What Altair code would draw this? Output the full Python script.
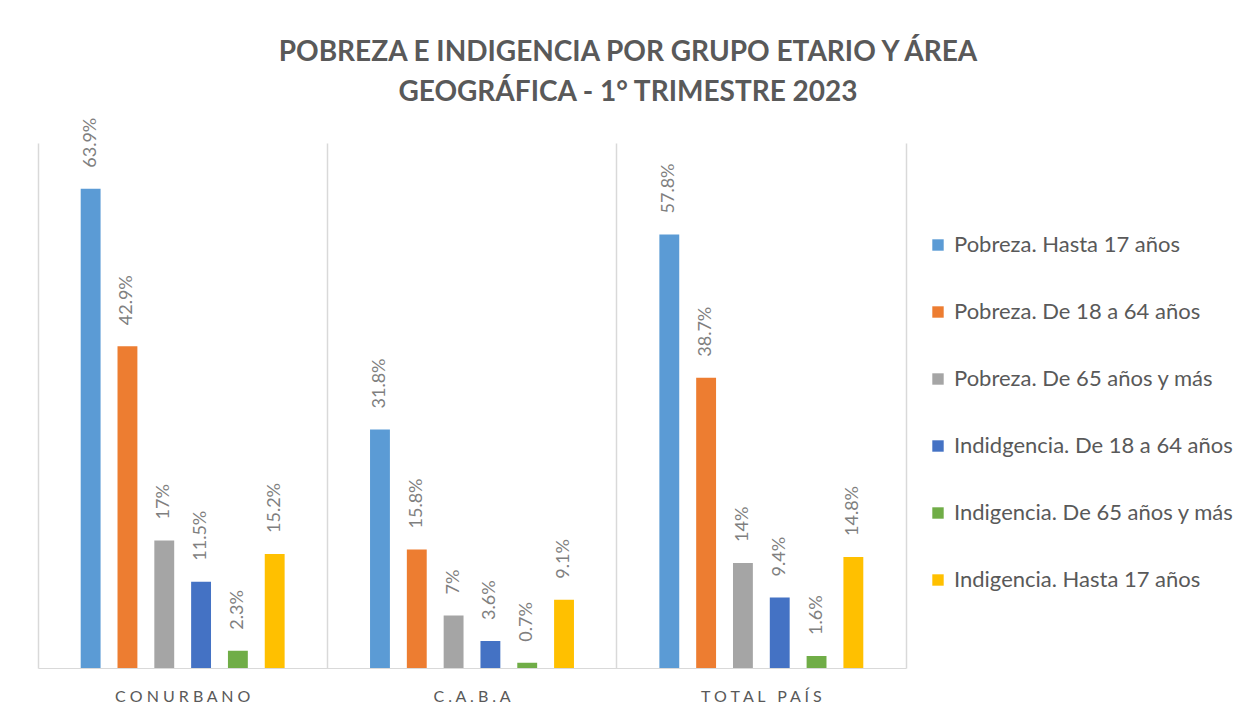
import altair as alt
import pandas as pd

areas = ["CONURBANO", "C.A.B.A", "TOTAL PAÍS"]
series = [
    "Pobreza. Hasta 17 años",
    "Pobreza. De 18 a 64 años",
    "Pobreza. De 65 años y más",
    "Indidgencia. De 18 a 64 años",
    "Indigencia. De 65 años y más",
    "Indigencia. Hasta 17 años",
]
colors = ["#5B9BD5", "#ED7D31", "#A5A5A5", "#4472C4", "#70AD47", "#FFC000"]

pobreza_hasta17 = [63.9, 31.8, 57.8]
pobreza_18_64 = [42.9, 15.8, 38.7]
pobreza_65 = [17, 7, 14]
indigencia_18_64 = [11.5, 3.6, 9.4]
indigencia_65 = [2.3, 0.7, 1.6]
indigencia_hasta17 = [15.2, 9.1, 14.8]

values_by_series = [pobreza_hasta17, pobreza_18_64, pobreza_65,
                    indigencia_18_64, indigencia_65, indigencia_hasta17]

rows = []
for s_i, s in enumerate(series):
    for a_i, a in enumerate(areas):
        rows.append({"area": a, "serie": s, "valor": values_by_series[s_i][a_i]})
df = pd.DataFrame(rows)

# empty slots at both ends of each group give the wide outer gap
offset_domain = ["_inicio"] + series + ["_fin"]

FONT = "Lato"
GREY = "#595959"
W, H = 868, 525

base = alt.Chart(df).encode(
    x=alt.X("area:N", sort=areas,
            scale=alt.Scale(paddingInner=0, paddingOuter=0),
            axis=alt.Axis(title=None, labelAngle=0, ticks=False, domainColor="#d9d9d9",
                          bandPosition=0, grid=True, gridColor="#d9d9d9", gridWidth=1.5,
                          labelFont=FONT, labelFontSize=16, labelColor=GREY, labelPadding=20,
                          labelExpr="join(split(datum.label, ''), '\u00a0')")),
    xOffset=alt.XOffset("serie:N",
                        scale=alt.Scale(domain=offset_domain, paddingInner=0.46, paddingOuter=0.16)),
    y=alt.Y("valor:Q", scale=alt.Scale(domain=[0, 70], nice=False),
            axis=alt.Axis(orient="right", title=None, labels=False, ticks=False, grid=False,
                          domain=True, domainColor="#d9d9d9", domainWidth=1.5)),
)

bars = base.mark_bar().encode(
    color=alt.Color("serie:N", sort=series,
                    scale=alt.Scale(domain=series, range=colors),
                    legend=alt.Legend(
                        title=None, orient="none", legendX=889, legendY=91,
                        symbolType="square", symbolSize=130, symbolStrokeWidth=0,
                        labelFont=FONT, labelFontSize=22, labelColor=GREY,
                        labelLimit=400, labelOffset=5, rowPadding=45,
                    )),
)

labels = base.transform_calculate(
    etiqueta="format(datum.valor, '.1~f') + '%'"
).mark_text(angle=270, align="left", baseline="middle", dx=21,
            font=FONT, fontSize=18, color="#7f7f7f").encode(
    text="etiqueta:N",
)

chart = alt.layer(bars, labels).properties(
    width=W,
    height=H,
    padding={"left": 38, "top": 143, "right": 335, "bottom": 54},
    autosize=alt.AutoSizeParams(type="none"),
    title=alt.TitleParams(
        text=["POBREZA E INDIGENCIA POR GRUPO ETARIO Y ÁREA", "GEOGRÁFICA - 1° TRIMESTRE 2023"],
        font=FONT, fontSize=28, fontWeight="bold", color=GREY,
        anchor="middle", dx=156, offset=11, lineHeight=40,
    ),
).configure_view(stroke=None)

chart.save("out.html", embed_options={"renderer": "svg", "actions": False})
